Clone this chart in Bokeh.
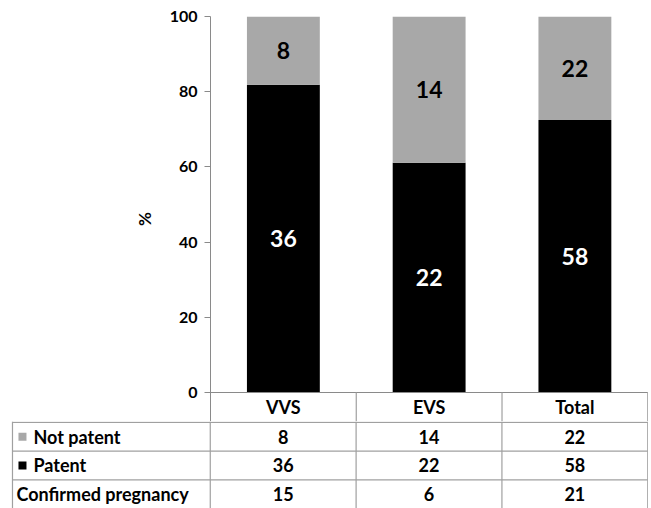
from bokeh.plotting import figure
from bokeh.layouts import column
from bokeh.models import Range1d, FixedTicker, ColumnDataSource
from bokeh.core.properties import value
from bokeh.embed import file_html
from bokeh.resources import INLINE

# ---- data ----
groups = ["VVS", "EVS", "Total"]
not_patent = [8, 14, 22]
patent = [36, 22, 58]
pregnancy = [15, 6, 21]
row_labels = ["Not patent", "Patent", "Confirmed pregnancy"]
y_ticks = [0, 20, 40, 60, 80, 100]

FONT = "Lato"
GREY = "#a8a8a8"
LINE = "#a0a0a0"
AXIS = "#8a8a8a"
TBL_FS = "18px"

n = len(groups)
xc = [i + 0.5 for i in range(n)]
pat_pct = [p / (p + q) * 100 for p, q in zip(patent, not_patent)]

ROW_PX = 29
PX_PER_PCT = 376 / 100
hdr = ROW_PX / PX_PER_PCT  # header-row height in % units

# ---- chart (with table header row) ----
p = figure(width=648, height=421, x_range=Range1d(0, n + 0.005), y_range=Range1d(-hdr, 100),
           output_backend="svg", toolbar_location=None, x_axis_location=None,
           min_border_left=210, min_border_right=0, min_border_top=16, min_border_bottom=0,
           frame_align=False)
p.outline_line_color = None
p.grid.visible = False

src = ColumnDataSource(dict(x=xc, pat=pat_pct, top=[100] * n,
                            np_lab=[str(v) for v in not_patent],
                            p_lab=[str(v) for v in patent],
                            np_mid=[(a + 100) / 2 for a in pat_pct],
                            p_mid=[a / 2 for a in pat_pct]))
p.vbar(x="x", bottom=0, top="pat", width=0.5, fill_color="black", line_color=None, source=src)
p.vbar(x="x", bottom="pat", top="top", width=0.5, fill_color=GREY, line_color=None, source=src)
p.text(x="x", y="np_mid", text="np_lab", source=src, text_align="center", text_baseline="middle",
       text_font=value(FONT), text_font_style="bold", text_font_size="23px", text_color="black")
p.text(x="x", y="p_mid", text="p_lab", source=src, text_align="center", text_baseline="middle",
       text_font=value(FONT), text_font_style="bold", text_font_size="23px", text_color="white")

# header row of the table
p.segment(x0=[0], y0=[0], x1=[n], y1=[0], line_color=AXIS, line_width=1.2)
p.segment(x0=list(range(1, n + 1)), y0=[0] * n, x1=list(range(1, n + 1)), y1=[-hdr] * n,
          line_color=LINE, line_width=1.2)
p.text(x=xc, y=[-hdr / 2] * n, text=groups, text_align="center", text_baseline="middle",
       text_font=value(FONT), text_font_style="bold", text_font_size=TBL_FS, text_color="black")

ax = p.yaxis[0]
ax.ticker = FixedTicker(ticks=y_ticks)
ax.minor_tick_line_color = None
ax.major_tick_in = 0
ax.major_tick_out = 6
ax.axis_line_color = AXIS
ax.major_tick_line_color = AXIS
ax.major_label_text_font = FONT
ax.major_label_text_font_style = "bold"
ax.major_label_text_font_size = "16px"
ax.major_label_text_color = "black"
ax.major_label_standoff = 7
ax.axis_label = "%"
ax.axis_label_text_font = FONT
ax.axis_label_text_font_style = "bold"
ax.axis_label_text_font_size = "17px"
ax.axis_label_text_color = "black"
ax.axis_label_standoff = 12

# ---- table body ----
unit = (648 - 210) / n
left = -210 / unit
x0 = left + 12 / unit
nb = len(row_labels)
t = figure(width=648, height=87, x_range=Range1d(left, n + 0.005), y_range=Range1d(-nb, 0.03),
           output_backend="svg", toolbar_location=None, x_axis_location=None, y_axis_location=None,
           min_border=0, frame_align=False)
t.outline_line_color = None
t.grid.visible = False

hy = [-i for i in range(nb)]
t.segment(x0=[x0] * len(hy), y0=hy, x1=[n] * len(hy), y1=hy, line_color=LINE, line_width=1.2)
vx = [x0] + list(range(n + 1))
t.segment(x0=vx, y0=[0.03] * len(vx), x1=vx, y1=[-nb] * len(vx), line_color=LINE, line_width=1.2)

for r, vals in enumerate([not_patent, patent, pregnancy]):
    t.text(x=xc, y=[-0.5 - r] * n, text=[str(v) for v in vals], text_align="center", text_baseline="middle",
           text_font=value(FONT), text_font_style="bold", text_font_size=TBL_FS, text_color="black")

has_key = [True, True, False]
key_col = [GREY, "black"]
lab_x = [x0 + (21 / unit if k else 4 / unit) for k in has_key]
t.text(x=lab_x, y=[-0.5 - r for r in range(nb)], text=row_labels, text_align="left",
       text_baseline="middle", text_font=value(FONT), text_font_style="bold", text_font_size=TBL_FS,
       text_color="black")
t.scatter(x=[x0 + 10 / unit] * 2, y=[-0.5, -1.5], marker="square", size=8,
          fill_color=key_col, line_color=None)

layout = column(p, t, spacing=0)
open("out.html", "w").write(file_html(layout, INLINE))
